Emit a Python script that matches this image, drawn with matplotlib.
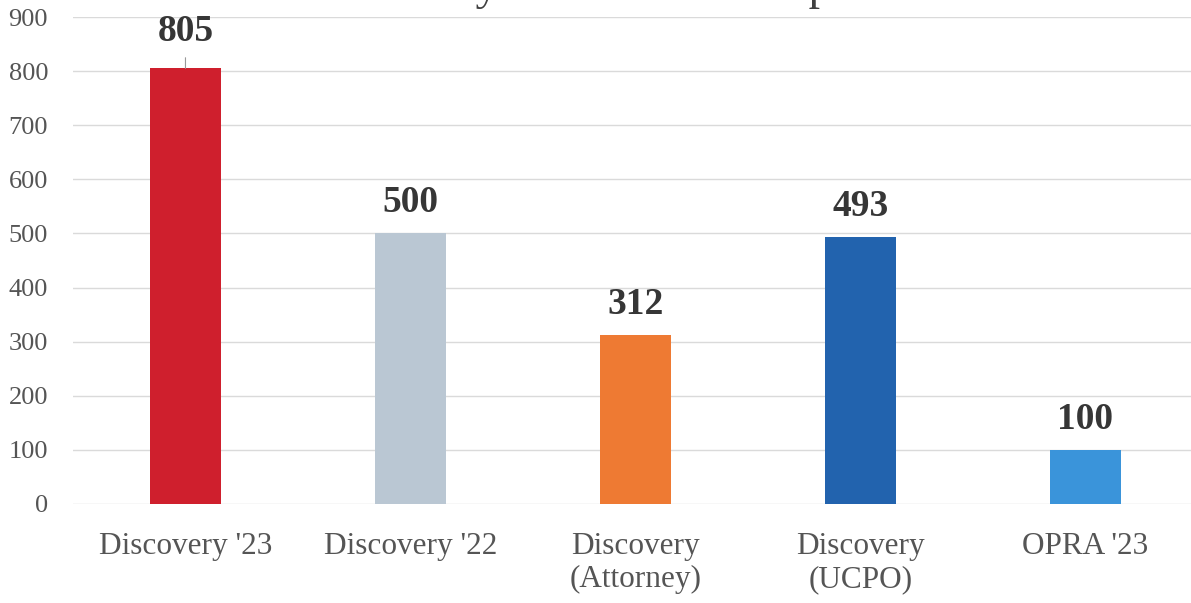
import matplotlib
matplotlib.use("Agg")
import matplotlib.pyplot as plt

categories = ["Discovery '23", "Discovery '22", "Discovery\n(Attorney)", "Discovery\n(UCPO)", "OPRA '23"]
values = [805, 500, 312, 493, 100]
colors = ["#CF1F2D", "#BAC7D3", "#EE7A33", "#2263AE", "#3A94DA"]
y_ticks = [0, 100, 200, 300, 400, 500, 600, 700, 800, 900]
title = "Discovery and OPRA Comparison"

plt.rcParams["font.family"] = ["Liberation Serif", "DejaVu Serif"]

W, H = 1191, 603
fig = plt.figure(figsize=(W / 100, H / 100), dpi=100)
ax = fig.add_axes([73 / W, (H - 504) / H, (W - 73) / W, (504 - 17) / H])

x = list(range(len(categories)))
ax.bar(x, values, width=0.316, color=colors, zorder=3)

ax.set_xlim(-0.5, 4.47)
ax.set_ylim(0, 900)
ax.set_yticks(y_ticks)
ax.set_xticks(x)
ax.set_xticklabels(categories, linespacing=1.2)
ax.tick_params(axis="both", length=0, colors="#555555")
ax.tick_params(axis="x", pad=20, labelsize=22.5)
ax.tick_params(axis="y", pad=18, labelsize=19)
ax.grid(axis="y", color="#DADADA", linewidth=1.0, zorder=0)
for s in ax.spines.values():
    s.set_visible(False)

for xi, v in zip(x, values):
    if v == max(values):
        # label pulled up a bit, with a leader line like in the original
        ax.annotate(str(v), xy=(xi, v), xytext=(0, 19), textcoords="offset pixels",
                    ha="center", va="bottom", fontsize=27, fontweight="bold", color="#363636",
                    arrowprops=dict(arrowstyle="-", color="#999999", lw=0.8,
                                    shrinkA=-4, shrinkB=0))
    else:
        ax.annotate(str(v), xy=(xi, v), xytext=(0, 13), textcoords="offset pixels",
                    ha="center", va="bottom", fontsize=27, fontweight="bold", color="#363636")

fig.text(310 / W, 1 + 1 / H, title, ha="left", va="baseline", fontsize=33, color="#404040")

fig.savefig("out.png", dpi=100)
